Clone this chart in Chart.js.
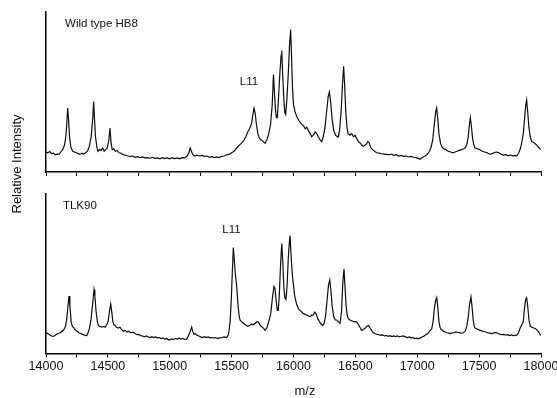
<!DOCTYPE html>
<html><head><meta charset="utf-8">
<script src="https://cdn.jsdelivr.net/npm/chart.js@4/dist/chart.umd.min.js"></script>
<style>
html,body{margin:0;padding:0;background:#fff;}
#wrap{position:relative;width:557px;height:398px;}
canvas{position:absolute;left:0;top:0;}
</style></head>
<body><div id="wrap"><canvas id="top" width="557" height="398"></canvas><canvas id="bot" width="557" height="398"></canvas></div>
<script>
// m/z axis
const xMin = 14000, xMax = 18000, xStep = 250, labelStep = 500;

// Wild type HB8 spectrum
const wtMz = [14000,14015,14030,14045,14060,14075,14090,14105,14120,14135,14150,14160,14168,14175,14182,14190,14200,14215,14230,14245,14260,14275,14290,14305,14320,14335,14350,14365,14378,14385,14392,14400,14410,14420,14432,14445,14458,14470,14482,14495,14508,14517,14525,14535,14548,14560,14575,14590,14605,14620,14640,14660,14680,14700,14720,14740,14760,14780,14800,14820,14840,14860,14880,14900,14920,14940,14960,14980,15000,15020,15040,15060,15080,15100,15120,15140,15155,15165,15175,15185,15200,15220,15240,15260,15280,15300,15320,15340,15360,15380,15400,15420,15440,15460,15480,15500,15520,15540,15560,15580,15600,15615,15630,15645,15660,15672,15681,15690,15700,15712,15725,15740,15755,15770,15785,15800,15815,15828,15838,15846,15855,15862,15869,15878,15890,15900,15905,15912,15922,15930,15937,15946,15957,15967,15977,15985,15992,16000,16015,16030,16045,16053,16065,16080,16095,16107,16120,16135,16147,16160,16175,16188,16200,16215,16228,16240,16255,16268,16280,16290,16300,16312,16325,16340,16355,16363,16372,16385,16396,16405,16413,16422,16432,16441,16455,16470,16485,16497,16510,16525,16540,16555,16564,16575,16590,16600,16610,16625,16640,16655,16672,16690,16710,16730,16750,16770,16790,16810,16830,16850,16870,16890,16910,16930,16950,16970,16990,17010,17022,17035,17050,17065,17080,17095,17110,17125,17138,17150,17157,17165,17175,17188,17198,17215,17230,17250,17270,17289,17305,17320,17340,17360,17375,17386,17400,17412,17422,17429,17437,17447,17457,17467,17485,17505,17525,17545,17565,17588,17605,17625,17642,17660,17680,17695,17715,17735,17755,17775,17790,17804,17820,17835,17848,17857,17868,17877,17884,17892,17902,17913,17925,17940,17955,17970,17985,18000];
const wtInt = [0.125,0.12,0.128,0.115,0.118,0.108,0.112,0.11,0.125,0.14,0.17,0.22,0.30,0.40,0.33,0.22,0.16,0.13,0.125,0.12,0.115,0.11,0.118,0.112,0.12,0.13,0.16,0.22,0.34,0.44,0.33,0.22,0.16,0.13,0.14,0.135,0.15,0.13,0.14,0.15,0.20,0.275,0.19,0.14,0.145,0.13,0.135,0.12,0.118,0.11,0.105,0.1,0.098,0.1,0.092,0.096,0.09,0.094,0.088,0.09,0.086,0.092,0.085,0.088,0.082,0.09,0.084,0.088,0.082,0.09,0.084,0.088,0.082,0.09,0.088,0.1,0.12,0.15,0.13,0.11,0.1,0.105,0.1,0.104,0.098,0.1,0.092,0.096,0.09,0.094,0.09,0.098,0.1,0.108,0.11,0.12,0.13,0.15,0.165,0.18,0.2,0.22,0.25,0.27,0.3,0.36,0.40,0.37,0.30,0.24,0.21,0.2,0.19,0.18,0.2,0.24,0.3,0.42,0.61,0.50,0.38,0.34,0.34,0.45,0.62,0.73,0.76,0.62,0.45,0.37,0.36,0.45,0.6,0.78,0.89,0.7,0.52,0.42,0.37,0.34,0.32,0.31,0.3,0.29,0.27,0.28,0.26,0.24,0.22,0.23,0.25,0.24,0.22,0.2,0.19,0.22,0.28,0.38,0.47,0.50,0.44,0.33,0.26,0.23,0.22,0.22,0.26,0.38,0.55,0.66,0.55,0.38,0.28,0.24,0.23,0.24,0.22,0.23,0.21,0.19,0.18,0.165,0.16,0.165,0.175,0.19,0.185,0.15,0.14,0.13,0.12,0.118,0.114,0.112,0.11,0.108,0.112,0.104,0.108,0.1,0.104,0.098,0.1,0.094,0.098,0.092,0.09,0.085,0.08,0.088,0.095,0.1,0.11,0.125,0.15,0.2,0.3,0.38,0.40,0.34,0.24,0.18,0.16,0.145,0.14,0.13,0.125,0.12,0.125,0.13,0.135,0.14,0.145,0.15,0.17,0.22,0.30,0.34,0.29,0.21,0.17,0.15,0.145,0.14,0.13,0.125,0.12,0.11,0.115,0.122,0.125,0.12,0.11,0.105,0.108,0.102,0.106,0.1,0.104,0.1,0.12,0.15,0.2,0.24,0.34,0.42,0.45,0.38,0.28,0.22,0.19,0.185,0.175,0.165,0.15,0.14];

// TLK90 spectrum
const tlkMz = [14000,14015,14030,14045,14057,14070,14085,14100,14115,14130,14145,14158,14168,14178,14186,14193,14203,14213,14221,14235,14250,14265,14280,14295,14310,14329,14340,14352,14365,14378,14388,14395,14405,14415,14423,14435,14450,14465,14477,14490,14502,14512,14523,14530,14540,14550,14558,14570,14585,14598,14612,14625,14640,14655,14670,14685,14703,14720,14735,14750,14765,14780,14795,14810,14825,14840,14855,14870,14885,14900,14915,14930,14945,14960,14975,14990,15002,15015,15030,15045,15060,15075,15090,15105,15120,15137,15150,15162,15170,15177,15185,15195,15204,15220,15235,15250,15265,15280,15295,15310,15325,15340,15355,15370,15385,15400,15420,15440,15460,15475,15488,15498,15506,15514,15522,15530,15541,15552,15560,15568,15580,15595,15610,15620,15632,15645,15660,15675,15690,15705,15716,15728,15740,15755,15770,15785,15800,15816,15830,15842,15850,15860,15870,15877,15885,15895,15905,15913,15922,15930,15939,15948,15958,15967,15972,15980,15990,15998,16010,16025,16040,16053,16066,16080,16095,16110,16122,16133,16145,16160,16172,16182,16195,16210,16222,16236,16248,16260,16272,16283,16293,16302,16312,16325,16338,16349,16362,16376,16388,16398,16408,16416,16425,16434,16442,16455,16470,16485,16500,16511,16525,16540,16551,16565,16580,16592,16605,16618,16630,16645,16659,16675,16690,16705,16720,16735,16750,16765,16780,16795,16810,16825,16840,16855,16870,16888,16905,16920,16935,16950,16965,16980,16995,17009,17025,17040,17055,17070,17085,17100,17117,17128,17138,17148,17157,17165,17175,17184,17195,17210,17225,17240,17255,17265,17280,17295,17310,17325,17340,17355,17372,17388,17400,17412,17423,17434,17442,17452,17460,17467,17480,17495,17510,17525,17540,17555,17570,17585,17600,17615,17630,17642,17655,17670,17685,17700,17715,17730,17745,17760,17775,17790,17804,17818,17832,17845,17857,17866,17876,17884,17892,17903,17914,17925,17940,17955,17965,17980,17992,18000];
const tlkInt = [0.128,0.125,0.118,0.11,0.107,0.112,0.12,0.125,0.13,0.14,0.15,0.17,0.22,0.3,0.36,0.3,0.2,0.17,0.165,0.15,0.14,0.13,0.125,0.12,0.115,0.113,0.13,0.16,0.22,0.32,0.40,0.36,0.26,0.2,0.176,0.17,0.165,0.17,0.165,0.18,0.2,0.26,0.31,0.27,0.2,0.18,0.176,0.165,0.16,0.165,0.15,0.14,0.145,0.135,0.14,0.13,0.134,0.125,0.118,0.12,0.112,0.11,0.105,0.11,0.104,0.1,0.106,0.1,0.104,0.098,0.1,0.094,0.098,0.09,0.094,0.086,0.086,0.092,0.088,0.094,0.09,0.096,0.09,0.094,0.088,0.09,0.11,0.13,0.15,0.165,0.14,0.12,0.125,0.115,0.11,0.104,0.1,0.106,0.1,0.104,0.098,0.1,0.096,0.1,0.094,0.098,0.1,0.104,0.1,0.12,0.2,0.35,0.52,0.665,0.58,0.5,0.42,0.3,0.24,0.21,0.2,0.19,0.18,0.175,0.17,0.175,0.185,0.18,0.19,0.2,0.197,0.18,0.17,0.16,0.145,0.16,0.2,0.25,0.35,0.42,0.41,0.33,0.27,0.27,0.36,0.55,0.69,0.58,0.42,0.35,0.34,0.42,0.6,0.7,0.74,0.62,0.5,0.44,0.36,0.31,0.28,0.27,0.26,0.25,0.245,0.24,0.235,0.23,0.24,0.24,0.26,0.25,0.22,0.2,0.185,0.176,0.19,0.24,0.34,0.43,0.46,0.4,0.3,0.23,0.21,0.21,0.2,0.19,0.26,0.44,0.53,0.42,0.3,0.24,0.22,0.21,0.205,0.2,0.2,0.197,0.18,0.16,0.145,0.15,0.16,0.17,0.176,0.16,0.145,0.13,0.124,0.12,0.118,0.114,0.116,0.11,0.114,0.108,0.112,0.106,0.11,0.106,0.11,0.104,0.108,0.11,0.104,0.1,0.104,0.098,0.1,0.094,0.096,0.092,0.098,0.104,0.11,0.118,0.125,0.14,0.155,0.2,0.28,0.33,0.35,0.3,0.2,0.165,0.15,0.14,0.135,0.13,0.128,0.125,0.128,0.13,0.135,0.132,0.13,0.128,0.13,0.14,0.17,0.23,0.31,0.354,0.3,0.21,0.17,0.16,0.155,0.15,0.145,0.14,0.138,0.135,0.13,0.128,0.125,0.128,0.132,0.13,0.125,0.12,0.118,0.12,0.115,0.118,0.112,0.116,0.112,0.114,0.115,0.13,0.16,0.18,0.2,0.28,0.34,0.35,0.3,0.21,0.17,0.165,0.16,0.155,0.15,0.135,0.12,0.113];

// Panel texts
const topNotes = [{text:'Wild type HB8', mz:14154, y:0.925, align:'left'}, {text:'L11', mz:15640, y:0.5625, align:'center'}];
const botNotes = [{text:'TLK90', mz:14137, y:0.925, align:'left'}, {text:'L11', mz:15499, y:0.774, align:'center'}];
const yTitle = 'Relative Intensity';
const xTitle = 'm/z';

const FONT = '"Liberation Sans", Arial, sans-serif';
const toPts = (mz, v) => mz.map((m, i) => ({x: m, y: v[i]}));

const notesPlugin = {
  id: 'notes',
  afterDraw(chart, args, opts) {
    const ctx = chart.ctx, xs = chart.scales.x, ys = chart.scales.y;
    ctx.save();
    ctx.fillStyle = '#111';
    ctx.font = '11.5px ' + FONT;
    ctx.textBaseline = 'middle';
    (opts.items || []).forEach(n => {
      ctx.textAlign = n.align;
      ctx.fillText(n.text, xs.getPixelForValue(n.mz), ys.getPixelForValue(n.y));
    });
    if (opts.titles) {
      ctx.textAlign = 'center';
      ctx.font = '13px ' + FONT;
      ctx.fillText(xTitle, 305, 391);
      ctx.translate(17, 164);
      ctx.rotate(-Math.PI / 2);
      ctx.fillText(yTitle, 0, 0);
    }
    ctx.restore();
  }
};

function makeChart(id, mz, vals, notes, showLabels, pad) {
  return new Chart(document.getElementById(id), {
    type: 'line',
    data: { datasets: [{ data: toPts(mz, vals), borderColor: '#0d0d0d', borderWidth: 1.2, pointRadius: 0, tension: 0, fill: false }] },
    options: {
      responsive: false, animation: false, devicePixelRatio: 1,
      layout: { padding: pad },
      plugins: { legend: {display: false}, tooltip: {enabled: false},
        notes: { items: notes, titles: showLabels } },
      scales: {
        x: { type: 'linear', min: xMin, max: xMax,
          afterFit: s => { s.paddingLeft = 0; s.paddingRight = 0; },
          border: {display: true, color: '#000', width: 1.5},
          grid: {display: true, drawOnChartArea: false, drawTicks: true, tickLength: 4, color: '#000', lineWidth: 1},
          ticks: { display: showLabels, stepSize: xStep, autoSkip: false, maxRotation: 0, color: '#111', padding: 3,
            font: {family: FONT, size: 12.5, lineHeight: 1},
            callback: v => (v % labelStep === 0 ? String(v) : '') }
        },
        y: { min: 0, max: 1,
          border: {display: true, color: '#000', width: 1.5},
          grid: {display: false, drawTicks: false},
          ticks: {display: false} }
      }
    },
    plugins: [notesPlugin]
  });
}

makeChart('top', wtMz, wtInt, topNotes, false, {left: 46, right: 16, top: 12, bottom: 222});
makeChart('bot', tlkMz, tlkInt, botNotes, true, {left: 46, right: 16, top: 194, bottom: 22});
</script>
</body></html>
